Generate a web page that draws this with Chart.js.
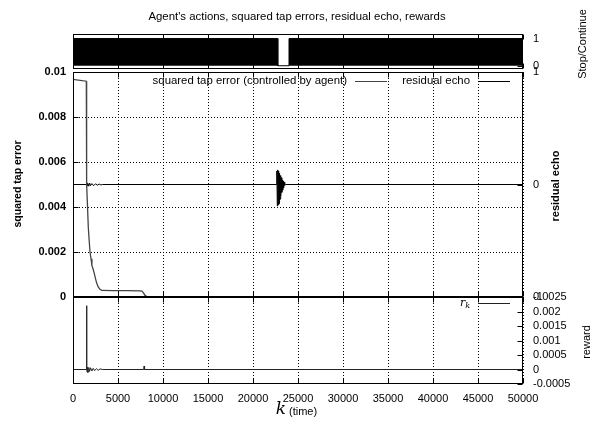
<!DOCTYPE html>
<html>
<head>
<meta charset="utf-8">
<script src="https://cdn.jsdelivr.net/npm/chart.js@4.4.1/dist/chart.umd.min.js"></script>
<style>
  html, body { margin: 0; padding: 0; background: #fff; }
  #wrap { position: relative; width: 594px; height: 424px; }
  #wrap canvas { position: absolute; left: 0; top: 0; }
</style>
</head>
<body>
<div id="wrap">
  <canvas id="actions" width="594" height="424"></canvas>
  <canvas id="errors" width="594" height="424"></canvas>
  <canvas id="rewards" width="594" height="424"></canvas>
</div>
<script>
// time axis
const kTicks = [0, 5000, 10000, 15000, 20000, 25000, 30000, 35000, 40000, 45000, 50000];

// agent's action (1 = continue, 0 = stop)
const actK     = [0, 22750, 22750, 24000, 24000, 50000];
const action   = [1, 1, 0, 0, 1, 1];
const actTicks = [0, 1];

// squared tap error (controlled by agent)
const tapK   = [0, 1480, 1500, 1530, 1590, 1700, 1800, 1890, 2000, 2100, 2250, 2370, 2500, 2630, 2800, 3000, 3200, 4500, 6000, 7400, 7650, 7850, 8000, 8200, 9000, 50000];
const tapErr = [0.00967, 0.00959, 0.0072, 0.0050, 0.00425, 0.0031, 0.0025, 0.0020, 0.0017, 0.0014, 0.00122, 0.00104, 0.00082, 0.00062, 0.00045, 0.00034, 0.00029, 0.00028, 0.00028, 0.00027, 0.00026, 0.00017, 0.00007, 0.00002, 0, 0];
const tapTicks = [0, 0.002, 0.004, 0.006, 0.008, 0.01];

// residual echo
const echoK = [0, 1500, 1550, 1600, 1650, 1750, 1850, 1950, 2100, 2300, 2500, 2700, 2900, 3100, 3300,
  22600, 22650, 22700, 22750, 22800, 22850, 22900, 22950, 23000, 23050, 23100,
  23150, 23200, 23250, 23300, 23350, 23400, 23450, 23500, 23550, 23600, 50000];
const echo = [0, 0, 0.015, -0.012, 0.01, -0.015, 0.012, -0.01, 0.008, -0.01, 0.006, -0.006, 0.004, -0.004, 0,
  0, 0.12, -0.19, 0.13, -0.18, 0.12, -0.17, 0.10, -0.13, 0.08, -0.10,
  0.06, -0.07, 0.04, -0.05, 0.03, -0.03, 0.02, -0.01, 0.005, 0, 0];
const echoTicks = [-1, 0, 1];

// reward r_k
const rewK   = [0, 1480, 1510, 1540, 1580, 1620, 1680, 1750, 1850, 1950, 2100, 2250, 2400, 2600, 2800, 3000, 3300, 7850, 7900, 7950, 50000];
const reward = [0, 0, 0.0022, 0, -0.0001, 0.00008, -0.00009, 0.00007, -0.00006, 0.00006, -0.00005, 0.00004, -0.00004, 0.00003, -0.00003, 0.00002, 0, 0, 0.00012, 0, 0];
const rewTicks = [-0.0005, 0, 0.0005, 0.001, 0.0015, 0.002, 0.0025];

const FONT = '"Liberation Sans", Arial, sans-serif';
Chart.defaults.font.family = FONT;
Chart.defaults.font.size = 11;
Chart.defaults.color = '#000';
Chart.defaults.animation = false;

const pts = (xs, ys) => xs.map((x, i) => ({ x: x, y: ys[i] }));
const num = v => String(+v.toFixed(6));
const fixW = w => s => { s.width = w; };
const fixH = h => s => { s.height = h; };
const setTicks = vals => s => { s.ticks = vals.map(v => ({ value: v })); };

// box around the plot with gnuplot-like inward ticks
const frame = {
  id: 'frame',
  afterDraw(chart, args, opts) {
    const { ctx, chartArea: a, scales } = chart;
    const L = Math.round(a.left) + 0.5, R = Math.round(a.right) - 0.5;
    const T = Math.round(a.top) + 0.5, B = Math.round(a.bottom) - 0.5;
    ctx.save();
    ctx.setLineDash([]);
    ctx.strokeStyle = '#000';
    ctx.lineWidth = 1;
    ctx.strokeRect(L, T, R - L, B - T);
    ctx.beginPath();
    scales.x.ticks.forEach(t => {
      const px = Math.round(scales.x.getPixelForValue(t.value)) + 0.5;
      ctx.moveTo(px, T); ctx.lineTo(px, T + 5);
      ctx.moveTo(px, B); ctx.lineTo(px, B - 5);
    });
    (opts.y || []).forEach(id => {
      const s = scales[id];
      s.ticks.forEach(t => {
        const py = Math.round(s.getPixelForValue(t.value)) + 0.5;
        if (s.position === 'left') { ctx.moveTo(L, py); ctx.lineTo(L + 5, py); }
        else { ctx.moveTo(R, py); ctx.lineTo(R - 5, py); }
      });
    });
    ctx.stroke();
    ctx.restore();
  }
};

// key: text right-aligned, then a short sample of the line
const key = {
  id: 'key',
  afterDraw(chart, args, opts) {
    const ctx = chart.ctx;
    (opts.entries || []).forEach(e => {
      const ds = chart.data.datasets[e.dataset];
      ctx.save();
      ctx.fillStyle = '#000';
      ctx.textBaseline = 'middle';
      ctx.textAlign = 'right';
      if (e.sub) {
        ctx.font = 'italic 8px "DejaVu Serif", serif';
        ctx.fillText(e.sub, e.x, e.y + 3);
        const w = ctx.measureText(e.sub).width;
        ctx.font = 'italic 11px "DejaVu Serif", serif';
        ctx.fillText(e.text, e.x - w, e.y);
      } else {
        ctx.font = '11.4px ' + FONT;
        ctx.fillText(e.text, e.x, e.y);
      }
      ctx.strokeStyle = ds.borderColor;
      ctx.lineWidth = 1;
      ctx.beginPath();
      ctx.moveTo(e.x + 8, Math.round(e.y) + 0.5);
      ctx.lineTo(e.x + 40, Math.round(e.y) + 0.5);
      ctx.stroke();
      ctx.restore();
    });
  }
};

// free labels (axis titles)
const notes = {
  id: 'notes',
  afterDraw(chart, args, opts) {
    const ctx = chart.ctx;
    (opts.items || []).forEach(it => {
      ctx.save();
      ctx.font = it.font;
      ctx.fillStyle = '#000';
      ctx.textAlign = it.align || 'center';
      ctx.textBaseline = 'middle';
      ctx.translate(it.x, it.y);
      if (it.rot) ctx.rotate(-Math.PI / 2);
      ctx.fillText(it.text, 0, 0);
      ctx.restore();
    });
  }
};

function timeAxis(labels, height, grid) {
  return {
    type: 'linear', min: 0, max: 50000,
    afterBuildTicks: setTicks(kTicks),
    afterFit: fixH(height),
    grid: { display: grid, color: '#000', lineWidth: 1, drawTicks: false, borderDash: [1, 2] },
    border: { display: false, dash: [1, 2] },
    ticks: { display: labels, padding: 8, maxRotation: 0, autoSkip: false, callback: v => String(v) }
  };
}

function sideAxis(pos, min, max, tickVals, showLabels, grid, bold) {
  return {
    type: 'linear', position: pos, min: min, max: max,
    afterBuildTicks: setTicks(tickVals),
    afterFit: fixW(pos === 'left' ? 73 : 71),
    grid: { display: grid, color: '#000', lineWidth: 1, drawTicks: false, borderDash: [1, 2] },
    border: { display: false, dash: [1, 2] },
    ticks: {
      display: showLabels, padding: pos === 'left' ? 7 : 10, autoSkip: false,
      font: { size: 11, weight: bold ? 'bold' : 'normal' },
      callback: v => num(v)
    }
  };
}

const base = {
  responsive: false,
  animation: false,
  events: []
};

new Chart(document.getElementById('actions'), {
  type: 'line',
  data: {
    datasets: [{
      label: 'Stop/Continue', data: pts(actK, action), yAxisID: 'y2',
      borderColor: '#000', backgroundColor: '#000', borderWidth: 1,
      fill: 'origin', pointRadius: 0, tension: 0
    }]
  },
  options: Object.assign({}, base, {
    layout: { padding: { top: 0, bottom: 355, left: 0, right: 0 } },
    scales: {
      x: timeAxis(false, 0, false),
      y: sideAxis('left', -0.12, 1.16, actTicks, false, false, false),
      y2: sideAxis('right', -0.12, 1.16, actTicks, true, false, false)
    },
    plugins: {
      legend: { display: false },
      tooltip: { enabled: false },
      title: {
        display: true,
        text: "Agent's actions, squared tap errors, residual echo, rewards",
        font: { size: 11.4, weight: 'normal', lineHeight: 1.2 },
        color: '#000',
        padding: { top: 10, bottom: 10.5 }
      },
      frame: { y: ['y2'] },
      notes: { items: [
        { text: 'Stop/Continue', x: 583, y: 44, rot: true, font: '11px ' + FONT }
      ] }
    }
  }),
  plugins: [frame, notes]
});

new Chart(document.getElementById('errors'), {
  type: 'line',
  data: {
    datasets: [
      {
        label: 'squared tap error (controlled by agent)', data: pts(tapK, tapErr), yAxisID: 'y',
        borderColor: '#444', borderWidth: 1.3, pointRadius: 0, tension: 0, clip: 3
      },
      {
        label: 'residual echo', data: pts(echoK, echo), yAxisID: 'y2',
        borderColor: '#000', borderWidth: 1, pointRadius: 0, tension: 0
      }
    ]
  },
  options: Object.assign({}, base, {
    layout: { padding: { top: 72, bottom: 127, left: 0, right: 0 } },
    scales: {
      x: timeAxis(false, 0, true),
      y: sideAxis('left', 0, 0.01, tapTicks, true, true, true),
      y2: sideAxis('right', -1, 1, echoTicks, true, false, false)
    },
    plugins: {
      legend: { display: false },
      tooltip: { enabled: false },
      frame: { y: ['y', 'y2'] },
      key: { entries: [
        { dataset: 0, text: 'squared tap error (controlled by agent)', x: 347, y: 81 },
        { dataset: 1, text: 'residual echo', x: 470, y: 81 }
      ] },
      notes: { items: [
        { text: 'squared tap error', x: 18, y: 184, rot: true, font: 'bold 10.5px ' + FONT },
        { text: 'residual echo', x: 556, y: 186, rot: true, font: 'bold 11px ' + FONT }
      ] }
    }
  }),
  plugins: [frame, key, notes]
});

new Chart(document.getElementById('rewards'), {
  type: 'line',
  data: {
    datasets: [{
      label: 'r_k', data: pts(rewK, reward), yAxisID: 'y2',
      borderColor: '#222', borderWidth: 1, pointRadius: 0, tension: 0
    }]
  },
  options: Object.assign({}, base, {
    layout: { padding: { top: 297, bottom: 0, left: 0, right: 0 } },
    scales: {
      x: timeAxis(true, 40, true),
      y: sideAxis('left', -0.0005, 0.0025, rewTicks, false, false, false),
      y2: sideAxis('right', -0.0005, 0.0025, rewTicks, true, false, false)
    },
    plugins: {
      legend: { display: false },
      tooltip: { enabled: false },
      frame: { y: ['y2'] },
      key: { entries: [
        { dataset: 0, text: 'r', sub: 'k', x: 470, y: 303 }
      ] },
      notes: { items: [
        { text: 'reward', x: 587, y: 342, rot: true, font: '11px ' + FONT },
        { text: 'k', x: 281, y: 410, font: 'italic 17px "DejaVu Serif", serif' },
        { text: '(time)', x: 289, y: 412, align: 'left', font: '11px ' + FONT }
      ] }
    }
  }),
  plugins: [frame, key, notes]
});
</script>
</body>
</html>
